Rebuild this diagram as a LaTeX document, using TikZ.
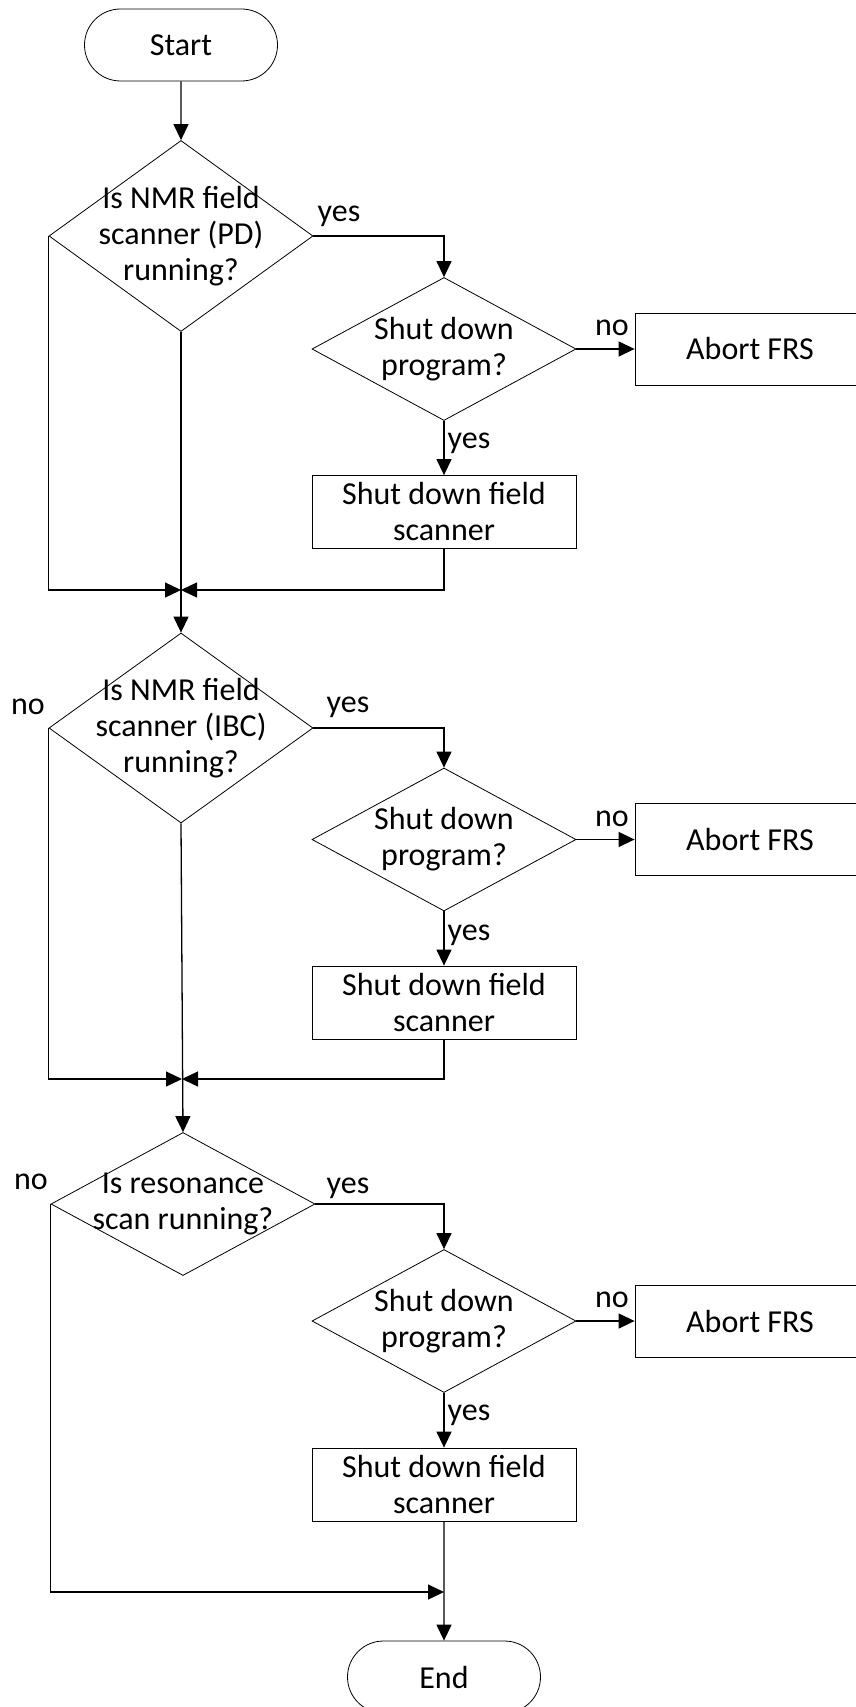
\documentclass[tikz,border=0pt]{standalone}
\usepackage{fontspec}
\setmainfont{Carlito}
\usetikzlibrary{shapes.geometric,shapes.misc,arrows.meta}

\begin{document}
\begin{tikzpicture}[x=1pt,y=-1pt,>={Triangle[length=16pt,width=15pt]},
    every node/.style={font=\fontsize{32}{36}\selectfont},
    term/.style={rounded rectangle,draw,line width=0.8pt,minimum width=193pt,minimum height=72pt,inner sep=0pt},
    decision/.style={diamond,draw,line width=0.8pt,minimum width=264pt,minimum height=#1,inner sep=0pt},
    proc/.style={rectangle,draw,line width=0.8pt,minimum width=264pt,minimum height=73pt,inner sep=0pt,align=center},
    abort/.style={rectangle,draw,line width=0.8pt,minimum width=230pt,minimum height=72pt,inner sep=0pt},
    link/.style={line width=1.3pt},
    lbl/.style={inner sep=0pt}]

        \useasboundingbox (0,0) rectangle (855,1707);

        % Début
        \node[term] (start) at (181,45) {Start};

        % Premier bloc : scanner PD
        \node[decision=191pt,label={[align=center]center:Is NMR field\\scanner (PD)\\running?}] (pd) at (181,236) {};
        \node[decision=143pt,label={[align=center]center:Shut down\\program?}] (sdA) at (444,349) {};
        \node[abort] (abA) at (750,349) {Abort FRS};
        \node[proc] (sfA) at (444,512) {Shut down field\\scanner};
        \coordinate (jA) at (181,590);

        % Deuxième bloc : scanner IBC
        \node[decision=190pt,label={[align=center]center:Is NMR field\\scanner (IBC)\\running?}] (ibc) at (181,728) {};
        \node[decision=143pt,label={[align=center]center:Shut down\\program?}] (sdB) at (444,839.5) {};
        \node[abort] (abB) at (750,839.5) {Abort FRS};
        \node[proc] (sfB) at (444,1002.5) {Shut down field\\scanner};
        \coordinate (jB) at (182,1079);

        % Troisième bloc : scan de résonance
        \node[decision=143pt,label={[align=center]center:Is resonance\\scan running?}] (res) at (183,1204) {};
        \node[decision=143pt,label={[align=center]center:Shut down\\program?}] (sdC) at (444,1321) {};
        \node[abort] (abC) at (750,1321) {Abort FRS};
        \node[proc] (sfC) at (444,1484.5) {Shut down field\\scanner};
        \coordinate (jC) at (444,1592);

        % Fin
        \node[term] (end) at (444,1677) {End};

        % Liaisons du premier bloc
        \draw[link,->] (start) -- (pd);
        \draw[link,->] (pd.east) -| (sdA.north);
        \draw[link,->] (sdA) -- (abA);
        \draw[link,->] (sdA) -- (sfA);
        \draw[link,->] (sfA.south) |- (jA);
        \draw[link,->] (pd.west) |- (jA);
        \draw[link,->] (pd.south) -- (ibc.north);

        % Liaisons du deuxième bloc
        \draw[link,->] (ibc.east) -| (sdB.north);
        \draw[link,->] (sdB) -- (abB);
        \draw[link,->] (sdB) -- (sfB);
        \draw[link,->] (sfB.south) |- (jB);
        \draw[link,->] (ibc.west) |- (jB);
        \draw[link,->] (ibc.south) -- (res.north);

        % Liaisons du troisième bloc
        \draw[link,->] (res.east) -| (sdC.north);
        \draw[link,->] (sdC) -- (abC);
        \draw[link,->] (sdC) -- (sfC);
        \draw[link,->] (res.west) |- (jC);
        \draw[link,->] (sfC) -- (end);

        % Étiquettes oui / non
        \node[lbl] (yA) at (339,216) {yes};
        \node[lbl] (nA) at (612,328) {no};
        \node[lbl] (yA2) at (469,443) {yes};
        \node[lbl] (nB0) at (28,707) {no};
        \node[lbl] (yB) at (348,707) {yes};
        \node[lbl] (nB) at (612,819) {no};
        \node[lbl] (yB2) at (469,935) {yes};
        \node[lbl] (nC0) at (31,1182) {no};
        \node[lbl] (yC) at (348,1188) {yes};
        \node[lbl] (nC) at (612,1300) {no};
        \node[lbl] (yC2) at (469,1415) {yes};
\end{tikzpicture}
\end{document}
